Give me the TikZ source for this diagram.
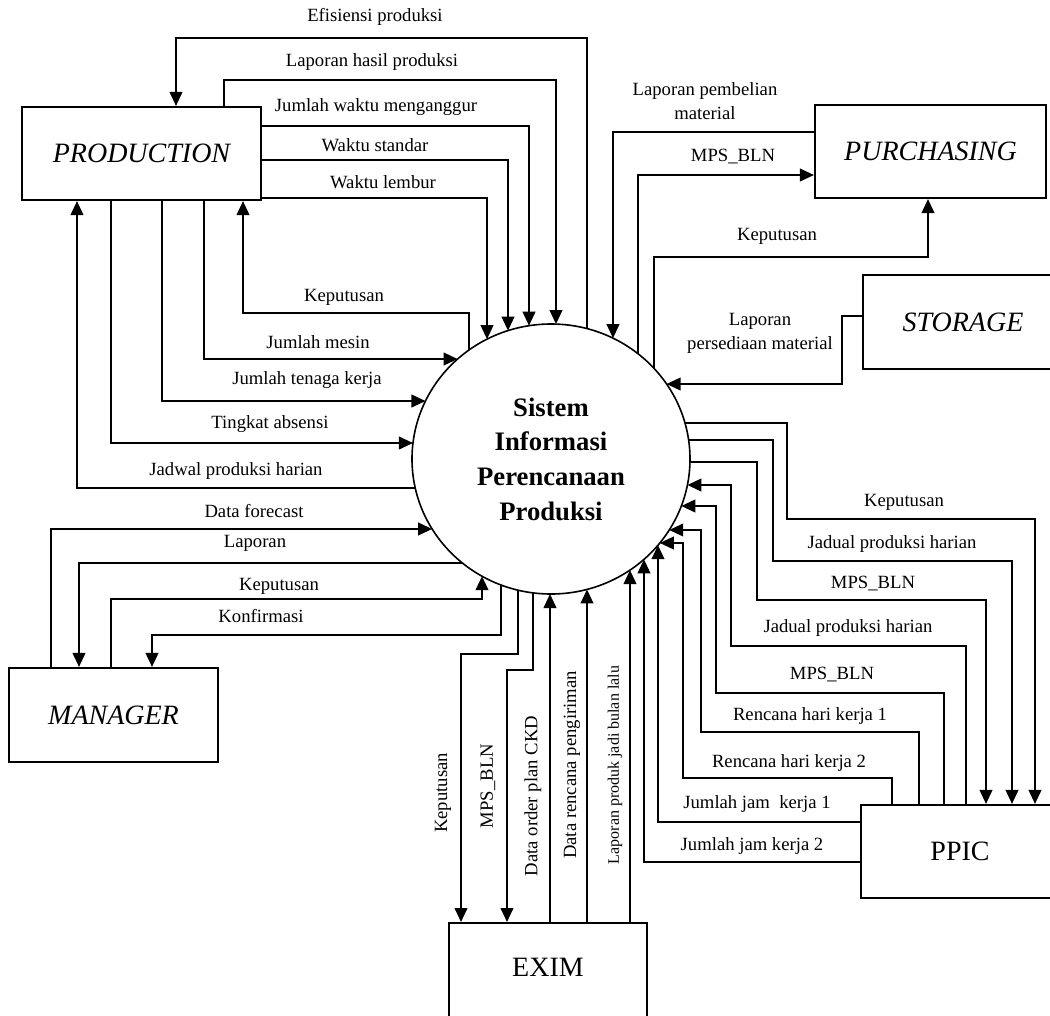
\documentclass[tikz,border=0pt]{standalone}
\usepackage{fontspec}
\setmainfont{Liberation Serif}
\usetikzlibrary{arrows.meta,shapes.geometric,calc}
\begin{document}
\begin{tikzpicture}[x=0.75pt,y=-0.75pt,
  box/.style={draw, line width=1.6pt, inner sep=0pt, font=\fontsize{21}{25}\selectfont},
  ttl/.style={font=\fontsize{21}{25}\selectfont, inner sep=0pt},
  lab/.style={font=\fontsize{14}{18}\selectfont, inner sep=0pt, align=center},
  slab/.style={font=\fontsize{12}{14}\selectfont, inner sep=0pt},
  arr/.style={line width=1.4pt, -{Triangle[length=10.5pt,width=9.5pt]}},
  ln/.style={line width=1.4pt}]
\useasboundingbox (0,0) rectangle (1050,1015);
\clip (0,0) rectangle (1050,1015);
\fill[white] (0,0) rectangle (1050,1015);

% central process
\coordinate (O) at (551,459);
\node[draw, ellipse, line width=1.2pt, minimum width=208.5pt, minimum height=202.5pt,
      inner sep=0pt, align=center, font=\fontsize{20}{26}\selectfont\bfseries]
      (sys) at (O) {Sistem\\Informasi\\Perencanaan\\Produksi};

% entities
\node[box, minimum width=179.25pt, minimum height=69.75pt, font=\fontsize{21}{25}\selectfont\itshape] (prod) at (141.5,153.5) {PRODUCTION};
\node[box, minimum width=173.25pt, minimum height=69.75pt, font=\fontsize{21}{25}\selectfont\itshape] (purch) at (930.5,151.5) {PURCHASING};
\node[box, minimum width=150pt, minimum height=70.5pt, font=\fontsize{21}{25}\selectfont\itshape] (stor) at (963,322) {STORAGE};
\node[box, minimum width=156.75pt, minimum height=70.5pt, font=\fontsize{21}{25}\selectfont\itshape] (mgr) at (113.5,715) {MANAGER};
\node[box, minimum width=148.5pt, minimum height=90pt, anchor=north] (exim) at (548,922) {};
\node[ttl] (eximt) at (548,967) {EXIM};
\node[box, minimum width=148.5pt, minimum height=69.75pt] (ppic) at (960,851.5) {PPIC};

% contact points on the circle
\foreach \x in {469,487,508,529,556,587,613,638,654}
  \coordinate (t\x) at ($(O)+({-acos((\x-551)/139)}:139 and 135)$);
\foreach \x in {482,501,518,533,550,587,630,644,658}
  \coordinate (b\x) at ($(O)+({acos((\x-551)/139)}:139 and 135)$);
\foreach \y in {359,401,443,488,529,563}
  \coordinate (l\y) at ($(O)+({180-asin((\y-459)/135)}:139 and 135)$);
\foreach \y in {384,423,440,462,485,506,530,543}
  \coordinate (r\y) at ($(O)+({asin((\y-459)/135)}:139 and 135)$);

% PRODUCTION flows
\draw[arr] (t587) |- (176,38) -- (176,0 |- prod.north);
\draw[arr] (224,0 |- prod.north) |- (556,80) -- (t556);
\draw[arr] (prod.east |- 0,126) -| (t529);
\draw[arr] (prod.east |- 0,160) -| (t508);
\draw[arr] (prod.east |- 0,198) -| (t487);
\draw[arr] (t469) |- (243,313) -- (243,0 |- prod.south);
\draw[arr] (204,0 |- prod.south) |- (l359);
\draw[arr] (162,0 |- prod.south) |- (l401);
\draw[arr] (111,0 |- prod.south) |- (l443);
\draw[arr] (l488) -| (77,0 |- prod.south);

\node[lab] (n1) at (375,17) {Efisiensi produksi};
\node[lab] (n2) at (372,62) {Laporan hasil produksi};
\node[lab] (n3) at (376,107) {Jumlah waktu menganggur};
\node[lab] (n4) at (375,145) {Waktu standar};
\node[lab] (n5) at (383,182) {Waktu lembur};
\node[lab] (n6) at (344,297) {Keputusan};
\node[lab] (n7) at (318,342) {Jumlah mesin};
\node[lab] (n8) at (307,380) {Jumlah tenaga kerja};
\node[lab] (n9) at (270,424) {Tingkat absensi};
\node[lab] (n10) at (236,471) {Jadwal produksi harian};

% MANAGER flows
\draw[arr] (51,0 |- mgr.north) |- (l529);
\draw[arr] (l563) -| (79,0 |- mgr.north);
\draw[arr] (111,0 |- mgr.north) |- (482,599) -- (b482);
\draw[arr] (b501) |- (152,635) -- (152,0 |- mgr.north);

\node[lab] (n11) at (254,511) {Data forecast};
\node[lab] (n12) at (255,543) {Laporan};
\node[lab] (n13) at (279,586) {Keputusan};
\node[lab] (n14) at (261,616) {Konfirmasi};

% EXIM flows
\draw[arr] (b518) |- (461,654) -- (461,0 |- exim.north);
\draw[arr] (b533) |- (507,670) -- (507,0 |- exim.north);
\draw[arr] (550,0 |- exim.north) -- (b550);
\draw[arr] (587,0 |- exim.north) -- (b587);
\draw[arr] (630,0 |- exim.north) -- (b630);

\node[lab, rotate=90] (n15) at (443,793) {Keputusan};
\node[lab, rotate=90] (n16) at (488,786) {MPS\_BLN};
\node[lab, rotate=90] (n17) at (533,796) {Data order plan CKD};
\node[lab, rotate=90] (n18) at (572,765) {Data rencana pengiriman};
\node[slab, rotate=90] (n19) at (615,765) {Laporan produk jadi bulan lalu};

% PPIC flows
\draw[arr] (ppic.west |- 0,862) -| (b644);
\draw[arr] (ppic.west |- 0,822) -| (b658);
\draw[arr] (892,0 |- ppic.north) |- (683,778) |- (r543);
\draw[arr] (919,0 |- ppic.north) |- (701,732) |- (r530);
\draw[arr] (944,0 |- ppic.north) |- (716,693) |- (r506);
\draw[arr] (966,0 |- ppic.north) |- (731,646) |- (r485);
\draw[arr] (r462) -| (757,600) -| (986,0 |- ppic.north);
\draw[arr] (r440) -| (773,561) -| (1012,0 |- ppic.north);
\draw[arr] (r423) -| (787,519) -| (1035,0 |- ppic.north);

\node[lab] (n20) at (904,502) {Keputusan};
\node[lab] (n21) at (892,544) {Jadual produksi harian};
\node[lab] (n22) at (873,584) {MPS\_BLN};
\node[lab] (n23) at (848,628) {Jadual produksi harian};
\node[lab] (n24) at (832,675) {MPS\_BLN};
\node[lab] (n25) at (810,716) {Rencana hari kerja 1};
\node[lab] (n26) at (789,763) {Rencana hari kerja 2};
\node[lab] (n27) at (757,804) {Jumlah jam\ \ kerja 1};
\node[lab] (n28) at (752,846) {Jumlah jam kerja 2};

% PURCHASING / STORAGE flows
\draw[arr] (purch.west |- 0,132) -| (t613);
\draw[arr] (t638) |- (purch.west |- 0,175);
\draw[arr] (t654) |- (928,257) -- (928,0 |- purch.south);
\draw[arr] (stor.west |- 0,316) -| (842,384) -- (r384);

\node[lab] (n29) at (705,101) {Laporan pembelian\\material};
\node[lab] (n30) at (733,157) {MPS\_BLN};
\node[lab] (n31) at (777,236) {Keputusan};
\node[lab] (n32) at (760,333) {Laporan\\persediaan material};
\end{tikzpicture}
\end{document}
